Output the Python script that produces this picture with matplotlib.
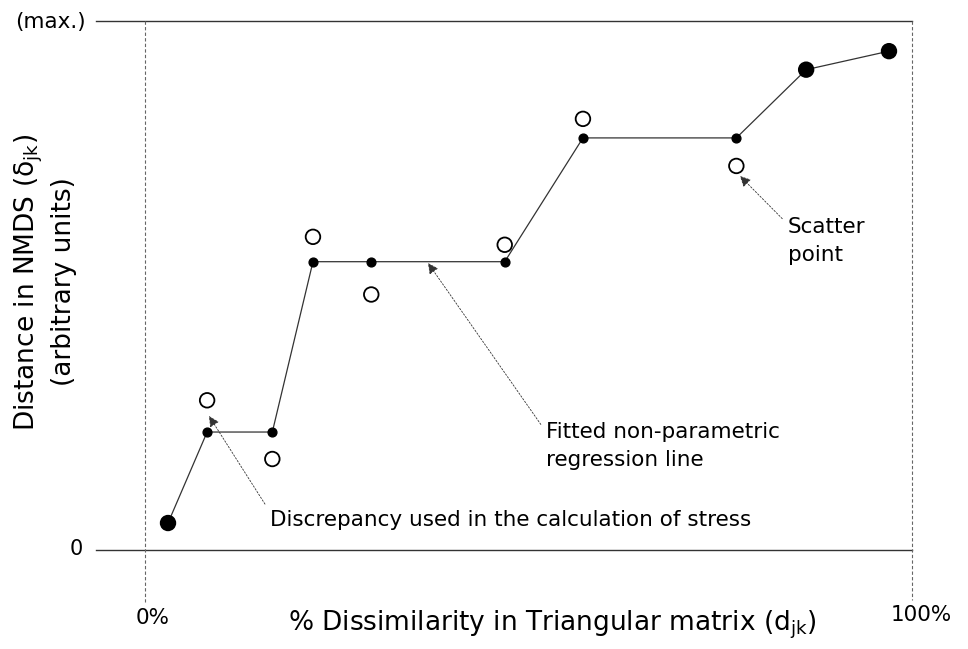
"""
plot.py

Shepard-style diagram for NMDS: observed scatter points, the fitted
non-parametric (monotone) regression line, and annotations.
"""

import matplotlib.pyplot as plt

# Data
dissimilarity = [3.0, 8.1, 16.6, 21.9, 29.5, 46.9, 57.1, 77.1, 86.2, 97.0]  # % dissimilarity
fitted = [0.051, 0.223, 0.223, 0.545, 0.545, 0.545, 0.779, 0.779, 0.908, 0.943]
scatter = [0.051, 0.283, 0.172, 0.592, 0.483, 0.577, 0.815, 0.726, 0.908, 0.943]

x_tick_labels = ["0%", "100%"]
y_tick_labels = ["0", "(max.)"]

FONT = ["DejaVu Sans"]

# pixel position of the frame in the original figure (0%, 100%, 0, max)
X0, X100 = 145, 912
Y0, YMAX = 550, 21
W, H = 968, 649


def px(x, y):
    """Convert a pixel position (from top-left) to data coordinates."""
    return ((x - X0) / (X100 - X0) * 100, (Y0 - y) / (Y0 - YMAX))


def plot():
    fig = plt.figure(figsize=(W / 100, H / 100), dpi=100)
    ax = fig.add_axes([0, 0, 1, 1])
    ax.set_xlim(px(0, 0)[0], px(W, 0)[0])
    ax.set_ylim(px(0, H)[1], px(0, 0)[1])
    ax.axis("off")

    # frame: horizontal rules at 0 and max, dashed verticals at 0% and 100%
    left = px(96, 0)[0]
    ax.plot([left, 100], [1, 1], color="#333333", lw=1.0)
    ax.plot([left, 100], [0, 0], color="#333333", lw=1.0)
    ax.plot([0, 0], [1, px(0, 602)[1]], color="#666666", lw=0.8, ls=(0, (3, 2)))
    ax.plot([100, 100], [1, px(0, 600)[1]], color="#666666", lw=0.8, ls=(0, (3, 2)))

    # fitted regression line and its points
    ax.plot(dissimilarity, fitted, color="#333333", lw=0.9, zorder=2)
    faces = ["black" if s == f else "white" for s, f in zip(scatter, fitted)]
    ax.scatter(dissimilarity, scatter, s=110, facecolors=faces,
               edgecolors="black", linewidths=1.3, zorder=3)
    ax.scatter(dissimilarity, fitted, s=40, color="black", zorder=4)

    # tick labels
    ax.text(*px(86, 22), y_tick_labels[1], ha="right", va="center",
            fontsize=15.5, family=FONT)
    ax.text(*px(76, 549), y_tick_labels[0], ha="center", va="center",
            fontsize=15, family=FONT)
    ax.text(*px(153, 618), x_tick_labels[0], ha="center", va="center",
            fontsize=15.5, family=FONT)
    ax.text(*px(921, 615), x_tick_labels[1], ha="center", va="center",
            fontsize=15.5, family=FONT)

    # axis titles
    ax.text(*px(552, 625), r"% Dissimilarity in Triangular matrix (d$_\mathregular{jk}$)",
            ha="center", va="center", fontsize=19, family=FONT)
    ax.text(*px(45, 282), "Distance in NMDS (\u03b4$_\\mathregular{jk}$)\n(arbitrary units)",
            ha="center", va="center", rotation=90, fontsize=19,
            family=FONT, linespacing=1.3)

    arrow = dict(arrowstyle="-|>", color="#333333", lw=0.6, ls=(0, (2, 2)),
                 mutation_scale=16, shrinkA=3, shrinkB=0)

    # annotations
    ax.annotate("Discrepancy used in the calculation of stress",
                xy=px(209, 416), xytext=px(270, 520), ha="left", va="center",
                fontsize=15.5, family=FONT,
                arrowprops=dict(arrow, relpos=(0, 0.9)))
    ax.annotate("Fitted non-parametric\nregression line",
                xy=px(428, 263), xytext=px(546, 446),
                ha="left", va="center", fontsize=15.5, family=FONT,
                linespacing=1.45, arrowprops=dict(arrow, relpos=(0, 0.8)))
    ax.annotate("Scatter\npoint",
                xy=px(740, 176), xytext=px(788, 241),
                ha="left", va="center", fontsize=15.5, family=FONT,
                linespacing=1.45, arrowprops=dict(arrow, relpos=(0, 0.85)))

    fig.savefig("out.png", dpi=100)


plot()
